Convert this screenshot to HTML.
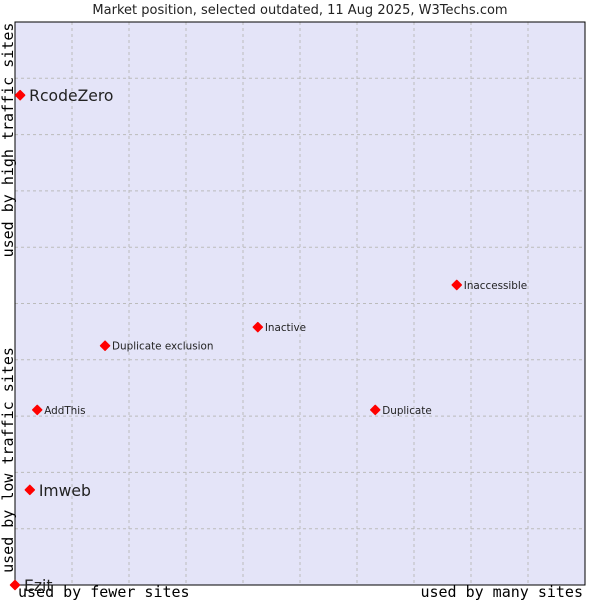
<!DOCTYPE html>
<html><head><meta charset="utf-8"><style>
body{margin:0;background:#fff;}
svg{display:block;font-family:"DejaVu Sans","Liberation Sans",sans-serif;}
</style></head><body>
<svg id="chart" width="600" height="600" xmlns="http://www.w3.org/2000/svg">
<text x="300" y="14" text-anchor="middle" font-size="13" fill="#222">Market position, selected outdated, 11 Aug 2025, W3Techs.com</text>
<rect x="15" y="22" width="570" height="563" fill="#e4e4f8"/>
<g id="grid"></g>
<rect x="15" y="22" width="570" height="563" fill="none" stroke="#000" stroke-width="1"/>
<text transform="translate(13,140) rotate(-90)" text-anchor="middle" font-family="DejaVu Sans Mono,Liberation Mono,monospace" font-size="15" fill="#000">used by high traffic sites</text>
<text transform="translate(13,460) rotate(-90)" text-anchor="middle" font-family="DejaVu Sans Mono,Liberation Mono,monospace" font-size="15" fill="#000">used by low traffic sites</text>
<text x="18" y="597" font-family="DejaVu Sans Mono,Liberation Mono,monospace" font-size="15" fill="#000">used by fewer sites</text>
<text x="583" y="597" text-anchor="end" font-family="DejaVu Sans Mono,Liberation Mono,monospace" font-size="15" fill="#000">used by many sites</text>
<g id="points"></g>
</svg>
<script>
const names = ["RcodeZero","Imweb","Ezit","AddThis","Duplicate exclusion","Inactive","Duplicate","Inaccessible"];
const xValues = [0.9,2.6,0,3.9,15.8,42.6,63.2,77.5];
const yValues = [87.0,16.9,0,31.1,42.5,45.8,31.1,53.3];
const bigLabel = [true,true,true,false,false,false,false,false];
const NS="http://www.w3.org/2000/svg";
const L=15,T=22,W=570,H=563;
const sx=v=>L+v/100*W, sy=v=>T+H-v/100*H;
const grid=document.getElementById('grid');
for(let i=1;i<10;i++){
  const a=document.createElementNS(NS,'line');
  a.setAttribute('x1',sx(i*10));a.setAttribute('x2',sx(i*10));a.setAttribute('y1',T);a.setAttribute('y2',T+H);
  a.setAttribute('stroke','#bbb');a.setAttribute('stroke-dasharray','3,3');
  
  
  grid.appendChild(a);
  const b=document.createElementNS(NS,'line');
  b.setAttribute('y1',sy(i*10));b.setAttribute('y2',sy(i*10));b.setAttribute('x1',L);b.setAttribute('x2',L+W);
  b.setAttribute('stroke','#bbb');b.setAttribute('stroke-dasharray','3,3');
  
  
  grid.appendChild(b);
}
const pts=document.getElementById('points');
names.forEach((n,i)=>{
  const x=sx(xValues[i]),y=sy(yValues[i]);
  const c=document.createElementNS(NS,'path');
  const r=4.5;
  c.setAttribute('d',`M${x-r} ${y} L${x} ${y-r} L${x+r} ${y} L${x} ${y+r}Z`);
  c.setAttribute('fill','#f00');c.setAttribute('stroke','#f00');c.setAttribute('stroke-width','1.5');c.setAttribute('stroke-linejoin','round');
  
  
  pts.appendChild(c);
  const t=document.createElementNS(NS,'text');
  t.setAttribute('x',x+(bigLabel[i]?9:7));
  t.setAttribute('y',y+(bigLabel[i]?6:4));
  t.setAttribute('font-size',bigLabel[i]?'15.6':'10.4');
  t.setAttribute('fill','#222');
  t.textContent=n;
  
  
  pts.appendChild(t);
});
</script>
</body></html>
